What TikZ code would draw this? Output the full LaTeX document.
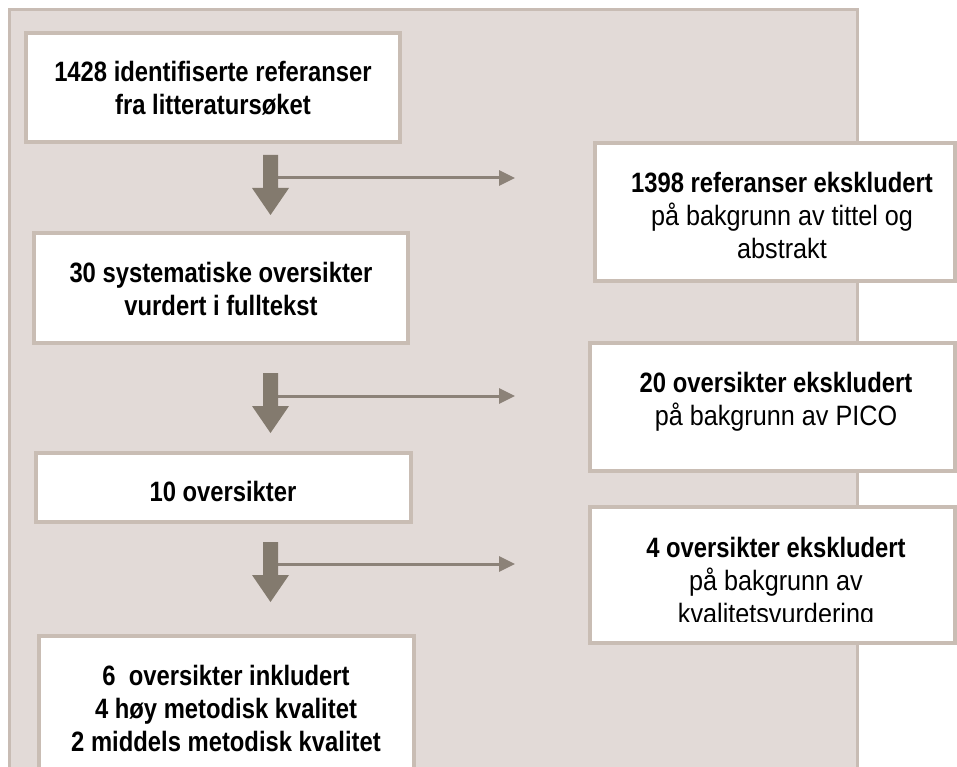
\documentclass[tikz,border=0pt]{standalone}
\usepackage{fontspec}
\setmainfont{Liberation Sans}
\newfontfamily\boldnarrow{Liberation Sans}[FakeStretch=0.85]
\newfontfamily\regnarrow{Liberation Sans}[FakeStretch=0.9]
\usetikzlibrary{arrows.meta}
\definecolor{panelfill}{RGB}{226,218,215}
\definecolor{panelline}{RGB}{200,188,180}
\definecolor{boxline}{RGB}{201,189,180}
\definecolor{arrowfill}{RGB}{131,122,110}
\definecolor{thinline}{RGB}{140,130,120}
\begin{document}
\begin{tikzpicture}[x=1pt,y=-1pt,
  panel/.style={draw=panelline, line width=2.5pt, fill=panelfill},
  boxstyle/.style={draw=boxline, line width=4pt, fill=white, inner sep=0pt},
  lefttxt/.style={inner sep=0pt, align=center, font=\fontsize{28}{33}\boldnarrow\bfseries\selectfont},
  righttxt/.style={inner sep=0pt, align=center, font=\fontsize{28}{33}\regnarrow\selectfont},
  fatarrow/.style={fill=arrowfill, draw=none},
  thinarrow/.style={draw=thinline, line width=3pt, -{Triangle[length=16pt,width=15pt]}}]
\useasboundingbox (0,0) rectangle (957,767);
\fill[white] (0,0) rectangle (957,767);
% panel
\draw[panel] (9.5,9.5) rectangle (857.5,820);
% left boxes
\node[boxstyle, minimum width=374pt, minimum height=109pt] (b1) at (213,87.5) {};
\node[boxstyle, minimum width=374pt, minimum height=110pt] (b2) at (221,288) {};
\node[boxstyle, minimum width=375pt, minimum height=69pt] (b3) at (223.5,487.5) {};
\node[boxstyle, minimum width=375pt, minimum height=162pt] (b4) at (226.5,717) {};
% right boxes
\node[boxstyle, minimum width=360pt, minimum height=138pt] (bA) at (775,212) {};
\node[boxstyle, minimum width=365pt, minimum height=128pt] (bB) at (772.5,407) {};
\node[boxstyle, minimum width=365pt, minimum height=136pt] (bC) at (772.5,575) {};
% texts
\node[lefttxt] (t1) at (213,88.3) {1428 identifiserte referanser\\fra litteratursøket};
\node[lefttxt] (t2) at (221,288.8) {30 systematiske oversikter\\vurdert i fulltekst};
\node[lefttxt] (t3) at (223,491) {10 oversikter};
\node[lefttxt] (t4) at (226,708) {6\ \ oversikter inkludert\\4 høy metodisk kvalitet\\2 middels metodisk kvalitet};
\node[righttxt] (tA) at (782,215.8) {{\boldnarrow\bfseries 1398 referanser ekskludert}\\på bakgrunn av tittel og\\abstrakt};
\node[righttxt] (tB) at (776,402.2) {{\boldnarrow\bfseries 20 oversikter ekskludert}\\på bakgrunn av PICO};
\begin{scope}
\clip (588,505) rectangle (957,621.5);
\node[righttxt] (tC) at (776,582.8) {{\boldnarrow\bfseries 4 oversikter ekskludert}\\på bakgrunn av\\kvalitetsvurdering};
\end{scope}
% connectors
\coordinate (a1) at (270.5,155);
\coordinate (a2) at (270.5,373);
\coordinate (a3) at (270.5,542);
\coordinate (h1s) at (272,178);
\coordinate (h1e) at (515,178);
\coordinate (h2s) at (272,396);
\coordinate (h2e) at (515,396);
\coordinate (h3s) at (272,564);
\coordinate (h3e) at (515,564);
\draw[thinarrow] (h1s) -- (h1e);
\draw[thinarrow] (h2s) -- (h2e);
\draw[thinarrow] (h3s) -- (h3e);
\foreach \a in {a1,a2,a3}{
  \fill[fatarrow] (\a) ++(-7.5,0) -- ++(15,0) -- ++(0,33) -- ++(11,0) -- ++(-18.5,27) -- ++(-18.5,-27) -- ++(11,0) -- cycle;
}
\end{tikzpicture}
\end{document}
